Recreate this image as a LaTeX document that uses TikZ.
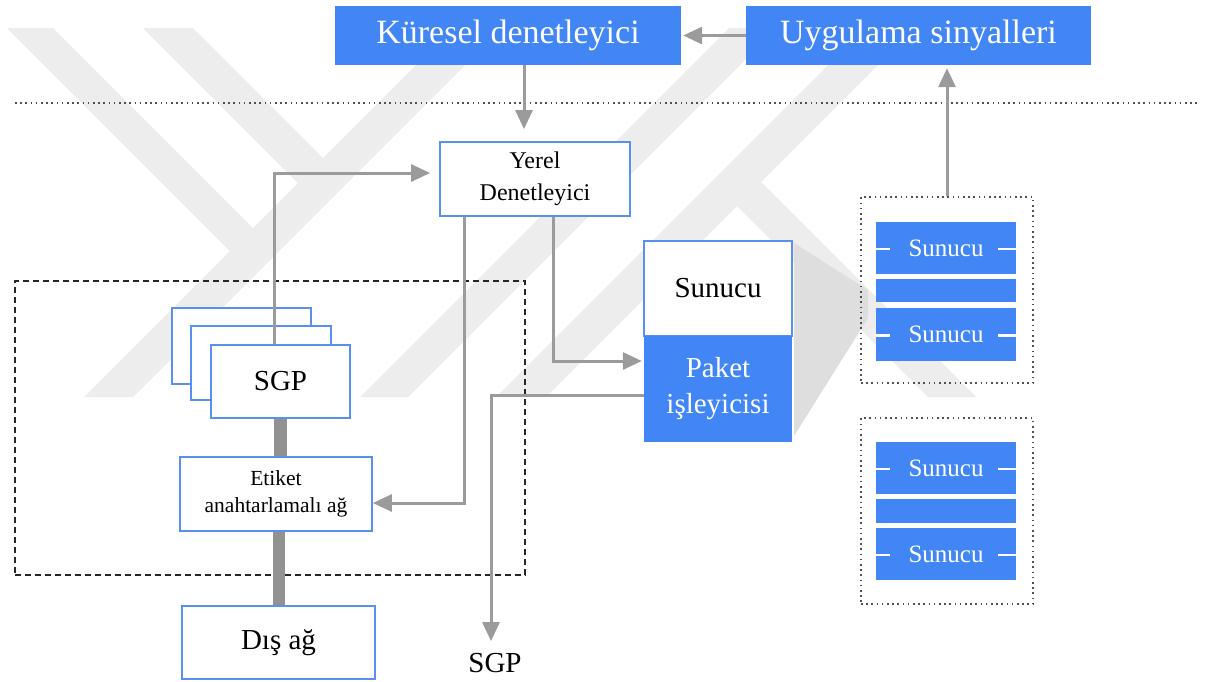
\documentclass[tikz,border=0pt]{standalone}
\usepackage{fontspec}
\setmainfont{Liberation Serif}
\usetikzlibrary{arrows.meta}
\definecolor{gblue}{RGB}{66,133,244}
\definecolor{bord}{RGB}{90,142,240}
\definecolor{arr}{RGB}{155,155,155}
\definecolor{barc}{RGB}{145,145,145}
\definecolor{wm}{RGB}{237,237,237}
\definecolor{wmdark}{RGB}{222,222,222}
\definecolor{dotc}{RGB}{80,80,80}

\begin{document}
\begin{tikzpicture}[x=1pt,y=-1pt,
  bluebox/.style={fill=gblue, draw=none, text=white, inner sep=0pt, align=center},
  whitebox/.style={fill=white, draw=bord, line width=1.8pt, text=black, inner sep=0pt, align=center},
  servbox/.style={fill=gblue, draw=none, text=white, inner sep=0pt, minimum width=140pt,
                  font=\fontsize{25}{30}\selectfont},
  group/.style={draw=dotc, line width=1.6pt, dash pattern=on 1.6pt off 3.6pt,
                minimum width=172pt, minimum height=186pt, inner sep=0pt},
  flow/.style={draw=arr, line width=3pt, -{Triangle[length=19pt,width=17pt]}},
  bar/.style={draw=barc, line width=13pt},
  tick/.style={draw=white, line width=2.6pt}
]
\useasboundingbox (0,0) rectangle (1214,681);
\fill[white] (0,0) rectangle (1214,681);

% faint background emblem (diagonal strokes at 45 degrees)
\begin{scope}
  \fill[wm] (7,28) -- (53,28) -- (265,240) -- (242,263) -- cycle;
  \fill[wm] (84,397) -- (133,397) -- (502,28) -- (453,28) -- cycle;
  \fill[wm] (143,28) -- (193,28) -- (335,170) -- (310,195) -- cycle;
  \fill[wm] (360,397) -- (408,397) -- (777,28) -- (729,28) -- cycle;
  \fill[wm] (496,397) -- (546,397) -- (915,28) -- (865,28) -- cycle;
  \fill[wm] (761,182) -- (976,397) -- (928,397) -- (737,206) -- cycle;
  \fill[wmdark] (794,243) -- (868,290) -- (868,318) -- (794,436) -- cycle;
\end{scope}

% separator between the global and local levels
\coordinate (sepL) at (15,103);
\coordinate (sepR) at (1200,103);
\draw[dotc, line width=1.6pt, dash pattern=on 1.6pt off 3.6pt] (sepL) -- (sepR);

% top level
\node[bluebox, minimum width=346pt, minimum height=59pt, font=\fontsize{34}{40}\selectfont]
  (kur) at (508,35.5) {Küresel denetleyici};
\node[bluebox, minimum width=345pt, minimum height=59pt, font=\fontsize{34}{40}\selectfont]
  (uyg) at (918.5,35.5) {Uygulama sinyalleri};

% local controller
\node[whitebox, minimum width=190pt, minimum height=74pt, font=\fontsize{24}{32}\selectfont]
  (yerel) at (535,179) {Yerel\\Denetleyici};

% gateway cluster
\node[draw=black!85, line width=1.6pt, dash pattern=on 6pt off 4pt,
      minimum width=510pt, minimum height=294pt, inner sep=0pt] (cluster) at (270,428) {};
\node[whitebox, minimum width=139pt, minimum height=76pt] (sgp3) at (241.5,346) {};
\node[whitebox, minimum width=140pt, minimum height=74pt] (sgp2) at (261,363) {};
\node[whitebox, minimum width=139pt, minimum height=73pt, font=\fontsize{29}{34}\selectfont]
  (sgp1) at (280.5,381.5) {SGP};
\node[whitebox, minimum width=192pt, minimum height=74pt, font=\fontsize{21.5}{27}\selectfont]
  (etiket) at (276,494) {Etiket\\anahtarlamalı ağ};
\node[whitebox, minimum width=193pt, minimum height=73pt, font=\fontsize{29}{34}\selectfont]
  (dis) at (278.5,642.5) {Dış ağ};

% server with packet processor
\node[whitebox, minimum width=148pt, minimum height=95pt, font=\fontsize{29}{34}\selectfont]
  (sun) at (718,288.5) {Sunucu};
\node[bluebox, minimum width=148pt, minimum height=106pt, font=\fontsize{29}{36}\selectfont]
  (paket) at (718,389) {Paket\\işleyicisi};
\node[font=\fontsize{29}{34}\selectfont, inner sep=0pt] (sgpout) at (495,663) {SGP};

% server groups
\node[group] (g1) at (947,290) {};
\node[servbox, minimum height=52pt] (g1a) at (946,248) {Sunucu};
\node[servbox, minimum height=23pt] (g1m) at (946,290.5) {};
\node[servbox, minimum height=53pt] (g1b) at (946,334.5) {Sunucu};
\node[group] (g2) at (947,511) {};
\node[servbox, minimum height=52pt] (g2a) at (946,468) {Sunucu};
\node[servbox, minimum height=24pt] (g2m) at (946,511) {};
\node[servbox, minimum height=52pt] (g2b) at (946,554) {Sunucu};
\foreach \s in {g1a,g1b,g2a,g2b}{
  \draw[tick] ([yshift=-1pt]\s.west) -- ++(14,0);
  \draw[tick] ([yshift=-1pt]\s.east) -- ++(-18,0);
}

% columns used by the connectors
\coordinate (cA) at (524,0);
\coordinate (cB) at (274,0);
\coordinate (cC) at (464,0);
\coordinate (cD) at (553,0);
\coordinate (cE) at (491,0);

% connectors
\draw[flow, shorten >=2pt] (uyg.west) -- (kur.east);
\draw[flow, shorten >=12pt] (kur.south -| cA) -- (yerel.north -| cA);
\draw[flow, shorten >=9pt] (sgp1.north -| cB) |- ([yshift=6pt]yerel.west);
\draw[flow] (yerel.south -| cC) |- ([yshift=-9pt]etiket.east);
\draw[flow, shorten >=2pt] (yerel.south -| cD) |- ([yshift=28pt]paket.west);
\draw[flow, shorten >=12pt] ([yshift=-6pt]paket.west) -| (sgpout.north -| cE);
\draw[flow, shorten >=3pt] (g1.north) -- (g1.north |- uyg.south);
\draw[bar] (sgp1.south) -- (sgp1.south |- etiket.north);
\draw[bar, line width=12pt] (dis.north |- etiket.south) -- (dis.north);
\end{tikzpicture}
\end{document}
